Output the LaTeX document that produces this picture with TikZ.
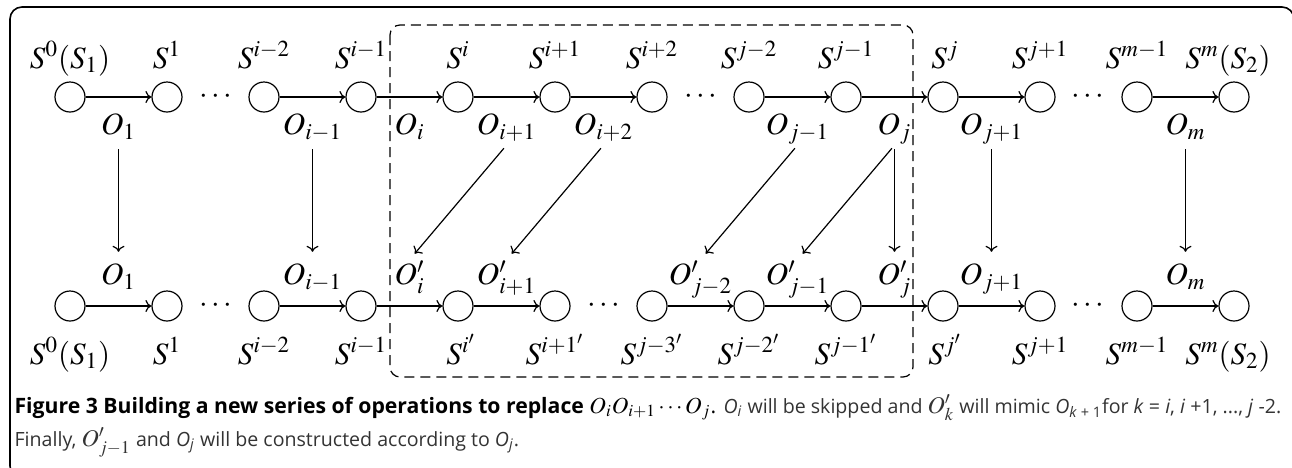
\documentclass[tikz,border=0pt]{standalone}
\usepackage{mathptmx}
\usepackage[no-math]{fontspec}
\setsansfont{Open Sans}
\usetikzlibrary{arrows.meta}

\tikzset{
  state/.style={draw, circle, minimum size=15pt, inner sep=0pt},
  op/.style={-{To[length=3pt, width=6pt]}},
  olab/.style={inner sep=1pt, text height=11pt, text depth=4pt},
  slab/.style={anchor=base, inner sep=1pt},
  maps/.style={op, shorten <=2pt, shorten >=4pt},
}

\begin{document}
\begin{tikzpicture}[x=0.5pt, y=-0.5pt, line width=0.6pt, font=\fontsize{15.5}{18}\selectfont]
        \useasboundingbox (0,0) rectangle (1292,467);
        % Frame
        \draw[line width=0.8pt, rounded corners=6pt] (10,478) rectangle (1294,7);
        % Replaced part
        \draw[dashed, dash pattern=on 5pt off 3pt, rounded corners=5pt] (390,25) rectangle (913,377);

        % Old series
        \node[state] (t1) at (70,97) {};
        \node[state] (t2) at (167,97) {};
        \node[state] (t3) at (264,97) {};
        \node[state] (t4) at (361,97) {};
        \node[state] (t5) at (458,97) {};
        \node[state] (t6) at (555,97) {};
        \node[state] (t7) at (652,97) {};
        \node[state] (t8) at (749,97) {};
        \node[state] (t9) at (846,97) {};
        \node[state] (t10) at (943,97) {};
        \node[state] (t11) at (1040,97) {};
        \node[state] (t12) at (1137,97) {};
        \node[state] (t13) at (1234,97) {};
        \node (td1) at (216,97) {$\cdots$};
        \node (td2) at (701,97) {$\cdots$};
        \node (td3) at (1088,97) {$\cdots$};

        \node[slab] (s1) at (70,68) {$S^0(S_1)$};
        \node[slab] (s2) at (167,68) {$S^1$};
        \node[slab] (s3) at (264,68) {$S^{i-2}$};
        \node[slab] (s4) at (361,68) {$S^{i-1}$};
        \node[slab] (s5) at (458,68) {$S^i$};
        \node[slab] (s6) at (555,68) {$S^{i+1}$};
        \node[slab] (s7) at (652,68) {$S^{i+2}$};
        \node[slab] (s8) at (749,68) {$S^{j-2}$};
        \node[slab] (s9) at (846,68) {$S^{j-1}$};
        \node[slab] (s10) at (945,68) {$S^j$};
        \node[slab] (s11) at (1040,68) {$S^{j+1}$};
        \node[slab] (s12) at (1137,68) {$S^{m-1}$};
        \node[slab] (s13) at (1228,68) {$S^m(S_2)$};

        \draw[op] (t1) -- node[olab, below=6.5pt] (ot1) {$O_1$} (t2);
        \draw[op] (t3) -- node[olab, below=6.5pt] (ot2) {$O_{i-1}$} (t4);
        \draw[op] (t4) -- node[olab, below=6.5pt] (ot3) {$O_i$} (t5);
        \draw[op] (t5) -- node[olab, below=6.5pt] (ot4) {$O_{i+1}$} (t6);
        \draw[op] (t6) -- node[olab, below=6.5pt] (ot5) {$O_{i+2}$} (t7);
        \draw[op] (t8) -- node[olab, below=6.5pt] (ot6) {$O_{j-1}$} (t9);
        \draw[op] (t9) -- node[olab, below=6.5pt] (ot7) {$O_j$} (t10);
        \draw[op] (t10) -- node[olab, below=6.5pt] (ot8) {$O_{j+1}$} (t11);
        \draw[op] (t12) -- node[olab, below=6.5pt] (ot9) {$O_m$} (t13);

        % New series
        \node[state] (b1) at (70,306) {};
        \node[state] (b2) at (167,306) {};
        \node[state] (b3) at (264,306) {};
        \node[state] (b4) at (361,306) {};
        \node[state] (b5) at (458,306) {};
        \node[state] (b6) at (555,306) {};
        \node[state] (b7) at (652,306) {};
        \node[state] (b8) at (749,306) {};
        \node[state] (b9) at (846,306) {};
        \node[state] (b10) at (943,306) {};
        \node[state] (b11) at (1040,306) {};
        \node[state] (b12) at (1137,306) {};
        \node[state] (b13) at (1234,306) {};
        \node (bd1) at (216,306) {$\cdots$};
        \node (bd2) at (604,306) {$\cdots$};
        \node (bd3) at (1088,306) {$\cdots$};

        \node[slab] (u1) at (70,364) {$S^0(S_1)$};
        \node[slab] (u2) at (167,364) {$S^1$};
        \node[slab] (u3) at (264,364) {$S^{i-2}$};
        \node[slab] (u4) at (361,364) {$S^{i-1}$};
        \node[slab] (u5) at (461,364) {$S^{i'}$};
        \node[slab] (u6) at (555,364) {$S^{i+1'}$};
        \node[slab] (u7) at (652,364) {$S^{j-3'}$};
        \node[slab] (u8) at (749,364) {$S^{j-2'}$};
        \node[slab] (u9) at (846,364) {$S^{j-1'}$};
        \node[slab] (u10) at (945,364) {$S^{j'}$};
        \node[slab] (u11) at (1040,364) {$S^{j+1}$};
        \node[slab] (u12) at (1137,364) {$S^{m-1}$};
        \node[slab] (u13) at (1228,364) {$S^m(S_2)$};

        \draw[op] (b1) -- node[olab, above=5.5pt] (ob1) {$O_1$} (b2);
        \draw[op] (b3) -- node[olab, above=5.5pt] (ob2) {$O_{i-1}$} (b4);
        \draw[op] (b4) -- node[olab, above=5.5pt] (ob3) {$O'_i$} (b5);
        \draw[op] (b5) -- node[olab, above=5.5pt] (ob4) {$O'_{i+1}$} (b6);
        \draw[op] (b7) -- node[olab, above=5.5pt] (ob5) {$O'_{j-2}$} (b8);
        \draw[op] (b8) -- node[olab, above=5.5pt] (ob6) {$O'_{j-1}$} (b9);
        \draw[op] (b9) -- node[olab, above=5.5pt] (ob7) {$O'_j$} (b10);
        \draw[op] (b10) -- node[olab, above=5.5pt] (ob8) {$O_{j+1}$} (b11);
        \draw[op] (b12) -- node[olab, above=5.5pt] (ob9) {$O_m$} (b13);

        % Old operations to new ones
        \draw[maps] (ot1.south) -- (ob1.north);
        \draw[maps] (ot2.south) -- (ob2.north);
        \draw[maps] (ot4.south) -- (ob3.north);
        \draw[maps] (ot5.south) -- (ob4.north);
        \draw[maps] (ot6.south) -- (ob5.north);
        \draw[maps] (ot7.south) -- (ob6.north);
        \draw[maps] (ot7.south) -- (ob7.north);
        \draw[maps] (ot8.south) -- (ob8.north);
        \draw[maps] (ot9.south) -- (ob9.north);

        % Caption
        \node[anchor=base west, inner sep=0pt] (cap1) at (14,413) {\sffamily\fontsize{10.6}{12}\selectfont
          \textbf{Figure 3 Building a new series of operations to replace}
          {\fontsize{11.5}{13}\selectfont$O_iO_{i+1}\cdots O_j$}. {\fontsize{9.8}{12}\selectfont\color{black!80}\textit{O}\textsubscript{\textit{i}} will be skipped and
          {\fontsize{12}{13}\selectfont$O'_k$} will mimic \textit{O}\textsubscript{\textit{k} + 1}for \textit{k} = \textit{i}, \textit{i} +1, ..., \textit{j} -2.}};
        \node[anchor=base west, inner sep=0pt, black!80] (cap2) at (14,446) {\sffamily\fontsize{9.8}{12}\selectfont
          Finally, {\fontsize{12}{13}\selectfont$O'_{j-1}$} and \textit{O}\textsubscript{\textit{j}} will be constructed according to \textit{O}\textsubscript{\textit{j}}.};
    \end{tikzpicture}
\end{document}
